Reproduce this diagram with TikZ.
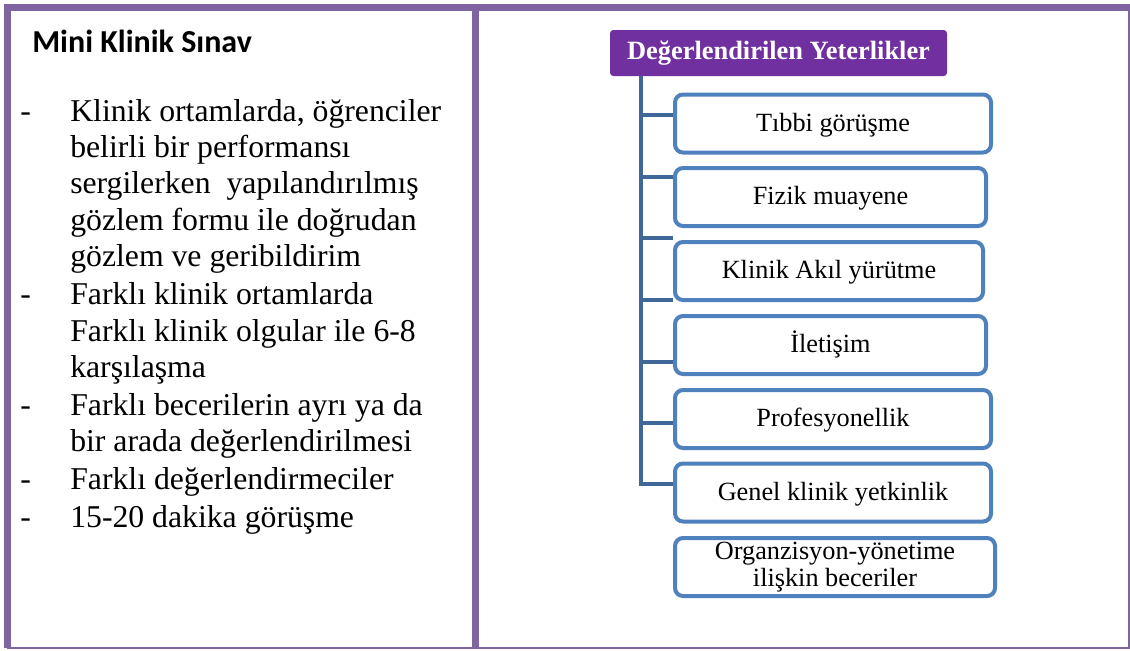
\documentclass[tikz,border=0pt]{standalone}
\usepackage{fontspec}
\setmainfont{Liberation Serif}
\newfontfamily\calibri{Carlito}
\definecolor{framepurple}{HTML}{8064A2}
\definecolor{hdrpurple}{HTML}{7030A0}
\definecolor{boxblue}{HTML}{4F81BD}
\definecolor{linkblue}{HTML}{3F6797}
\begin{document}
\begin{tikzpicture}[x=0.75pt,y=-0.75pt,
  leftline/.style={anchor=base west,inner sep=0pt,font=\fontsize{23.8}{26}\selectfont},
  dashmark/.style={anchor=base west,inner sep=0pt,font=\fontsize{23.8}{26}\selectfont},
  childbox/.style={draw=boxblue,line width=3pt,rounded corners=6pt,fill=white,
    minimum height=43.5pt,inner sep=0pt,align=center,font=\fontsize{19.7}{20.3}\selectfont},
  oneline/.style={text height=11.5pt,text depth=0pt},
  hdrbox/.style={fill=hdrpurple,rounded corners=2.5pt,text=white,minimum width=252.75pt,
    minimum height=34.5pt,inner sep=0pt,font=\fontsize{19.8}{22}\selectfont\bfseries},
  link/.style={draw=linkblue,line width=3pt}
]
\useasboundingbox (0,0) rectangle (1130,650);
\fill[white] (0,0) rectangle (1130,650);
% frame
\draw[framepurple,line width=1.5pt] (7,648) -- (1129,648) -- (1129,7);
\draw[framepurple,line width=5.25pt] (7,648) -- (7,7) -- (1130,7);
\draw[framepurple,line width=5.25pt] (475,7) -- (475,648);

% left panel
\node[anchor=base west,inner sep=0pt,font=\fontsize{24}{28}\calibri\bfseries] (title) at (32,52) {Mini Klinik Sınav};

\node[dashmark] (d1) at (20,121) {-};
\node[leftline] (l1) at (70,121) {Klinik ortamlarda, öğrenciler};
\node[leftline] (l2) at (70,157) {belirli bir performansı};
\node[leftline] (l3) at (70,193) {sergilerken\ \ yapılandırılmış};
\node[leftline] (l4) at (70,230) {gözlem formu ile doğrudan};
\node[leftline] (l5) at (70,266) {gözlem ve geribildirim};
\node[dashmark] (d2) at (20,304) {-};
\node[leftline] (l6) at (70,304) {Farklı klinik ortamlarda};
\node[leftline] (l7) at (70,341) {Farklı klinik olgular ile 6-8};
\node[leftline] (l8) at (70,377) {karşılaşma};
\node[dashmark] (d3) at (20,415) {-};
\node[leftline] (l9) at (70,415) {Farklı becerilerin ayrı ya da};
\node[leftline] (l10) at (70,451) {bir arada değerlendirilmesi};
\node[dashmark] (d4) at (20,489) {-};
\node[leftline] (l11) at (70,489) {Farklı değerlendirmeciler};
\node[dashmark] (d5) at (20,527) {-};
\node[leftline] (l12) at (70,527) {15-20 dakika görüşme};

% right panel
\node[hdrbox] (hdr) at (778.5,53) {Değerlendirilen Yeterlikler};

\node[childbox,oneline,minimum width=237pt] (b1) at (833,123.5) {Tıbbi görüşme};
\node[childbox,oneline,minimum width=233.25pt] (b2) at (830.5,197) {Fizik muayene};
\node[childbox,oneline,minimum width=231pt] (b3) at (829,271) {Klinik Akıl yürütme};
\node[childbox,oneline,minimum width=233.25pt] (b4) at (830.5,345) {İletişim};
\node[childbox,oneline,minimum width=237pt] (b5) at (833,419) {Profesyonellik};
\node[childbox,oneline,minimum width=237pt] (b6) at (833,492.5) {Genel klinik yetkinlik};
\node[childbox,minimum width=240pt] (b7) at (835,567) {Organzisyon-yönetime\\ilişkin beceriler};

\coordinate (t1) at (641,115);
\coordinate (t2) at (641,177);
\coordinate (t3) at (641,238);
\coordinate (t4) at (641,300);
\coordinate (t5) at (641,362);
\coordinate (t6) at (641,423);
\coordinate (t7) at (641,484);
\draw[link] (hdr.south -| t1) -- (t7) -- (t7 -| b6.west);
\foreach \i in {1,...,6} {\draw[link] (t\i) -- (t\i -| b1.west);}
\end{tikzpicture}
\end{document}
